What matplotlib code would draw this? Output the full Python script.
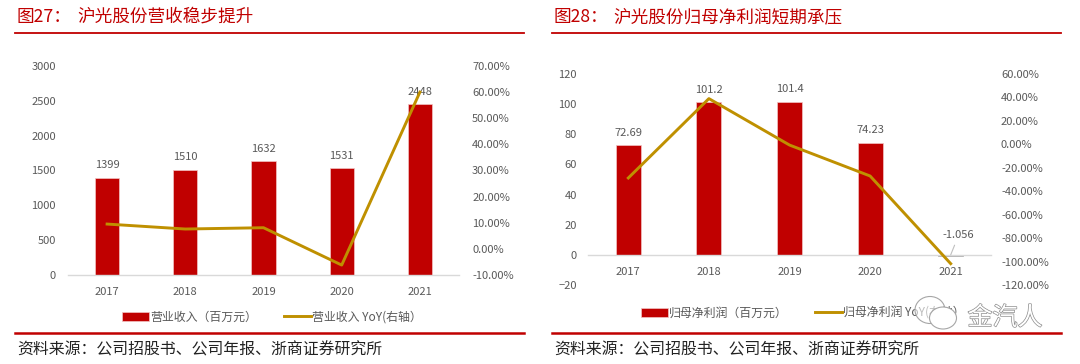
import matplotlib
matplotlib.use('Agg')
import matplotlib.pyplot as plt
import matplotlib.patheffects as pe
from matplotlib.patches import Ellipse

plt.rcParams['font.family'] = ['Noto Sans CJK SC', 'DejaVu Sans']

# Data
years = ['2017', '2018', '2019', '2020', '2021']
revenue = [1399, 1510, 1632, 1531, 2448]
revenue_yoy = [9.5, 7.6, 8.1, -6.2, 60.0]
profit = [72.69, 101.2, 101.4, 74.23, -1.056]
profit_labels = ['72.69', '101.2', '101.4', '74.23', '-1.056']
profit_yoy = [-28.7, 39.0, -0.6, -27.0, -101.8]

left_ticks = [0, 500, 1000, 1500, 2000, 2500, 3000]
left_pct = [-10, 0, 10, 20, 30, 40, 50, 60, 70]
right_ticks = [-20, 0, 20, 40, 60, 80, 100, 120]
right_pct = [-120, -100, -80, -60, -40, -20, 0, 20, 40, 60]

RED = '#C00000'
GOLD = '#BF9000'
GREY = '#595959'
W, H = 1080, 364
TICK_SIZE = 8.0


def px_axes(fig, x0, x1, y_top, y_bottom):
    return fig.add_axes([x0 / W, 1 - y_bottom / H, (x1 - x0) / W, (y_bottom - y_top) / H])


def draw_chart(ax, bars, bar_labels, line, ticks, pct, bar_width, names, pads):
    x = range(len(years))
    ax2 = ax.twinx()
    b = ax.bar(x, bars, width=bar_width, color=RED, edgecolor='#F2C4C4', linewidth=0.5, label=names[0], zorder=2)
    ln, = ax2.plot(x, line, color=GOLD, linewidth=2.1, label=names[1], zorder=5)

    ax.set_xlim(-0.5, len(years) - 0.5)
    ax.set_ylim(ticks[0], ticks[-1])
    ax2.set_ylim(pct[0], pct[-1])
    ax.set_xticks(list(x))
    ax.set_xticklabels(years)
    ax.set_yticks(ticks)
    ax2.set_yticks(pct)
    ax2.set_yticklabels(['%.2f%%' % p for p in pct])

    for a in (ax, ax2):
        for s in a.spines.values():
            s.set_visible(False)
        a.tick_params(length=0, labelsize=TICK_SIZE, labelcolor=GREY)
    ax.tick_params(axis='y', pad=pads[0])
    ax.tick_params(axis='x', pad=8.5)
    ax2.tick_params(axis='y', pad=pads[1])
    ax.spines['bottom'].set_visible(True)
    ax.spines['bottom'].set_position(('data', 0))
    ax.spines['bottom'].set_color('#D9D9D9')
    ax.spines['bottom'].set_linewidth(1)

    for i, v in enumerate(bars):
        if v < 0:
            continue
        ax.annotate(bar_labels[i], (i, v), xytext=(0, 5.5), textcoords='offset points',
                    ha='center', va='bottom', fontsize=TICK_SIZE, color=GREY)
    return b, ln


fig = plt.figure(figsize=(10.8, 3.64), dpi=100)

# left chart
ax_l = px_axes(fig, 68, 459, 66, 275)
bar_l, line_l = draw_chart(ax_l, revenue, [str(v) for v in revenue], revenue_yoy,
                           left_ticks, left_pct, 0.307,
                           ['营业收入（百万元）', '营业收入 YoY(右轴）'], (8.6, 9.4))

# right chart
ax_r = px_axes(fig, 588, 991, 74, 285)
bar_r, line_r = draw_chart(ax_r, profit, profit_labels, profit_yoy,
                           right_ticks, right_pct, 0.31,
                           ['归母净利润（百万元）', '归母净利润 YoY(右轴）'], (8, 7.2))
# the negative bar barely shows, it reads as a grey stub on the axis
bar_r[4].set_color('#A6A6A6')
ax_r.annotate(profit_labels[4], (4, 0), xytext=(4.1, 13.3), textcoords='data',
              ha='center', va='center', fontsize=TICK_SIZE, color=GREY,
              arrowprops=dict(arrowstyle='-', color='#BFBFBF', linewidth=0.8, shrinkA=2, shrinkB=0))

# legends
for bar, line, x0, y0 in [(bar_l, line_l, 122, 317), (bar_r, line_r, 641, 313)]:
    fig.legend([bar, line], [bar.get_label(), line.get_label()], ncol=2, frameon=False,
               loc='center left', bbox_to_anchor=(x0 / W, 1 - y0 / H), fontsize=8.6,
               labelcolor=GREY, handlelength=2.25, handleheight=0.75, handletextpad=0.1,
               columnspacing=2.3, borderpad=0, borderaxespad=0)

# header and footer rules
for x0, x1 in [(15, 524), (552, 1061)]:
    fig.add_artist(plt.Line2D([x0 / W, x1 / W], [1 - 33 / H] * 2, color=RED, linewidth=1.3))
    fig.add_artist(plt.Line2D([x0 / W, x1 / W], [1 - 333 / H] * 2, color=RED, linewidth=1.8))

# titles
for x_num, x_txt, num, txt in [(17, 77, '图27：', '沪光股份营收稳步提升'),
                               (554, 613, '图28：', '沪光股份归母净利润短期承压')]:
    fig.text(x_num / W, 1 - 17 / H, num, color=RED, fontsize=12.7, va='center')
    fig.text(x_txt / W, 1 - 17 / H, txt, color=RED, fontsize=12.7, va='center')

# source lines
for x0 in (17, 554):
    fig.text(x0 / W, 1 - 350 / H, '资料来源：公司招股书、公司年报、浙商证券研究所',
             color='#222222', fontsize=11.45, va='center')

# watermark over the right legend
edge = '#A6A6A6'
for cx, cy, w, h, fill_alpha in [(930, 310, 30, 27, 0.6), (943, 318, 27, 22, 1.0)]:
    fig.add_artist(Ellipse((cx / W, 1 - cy / H), w / W, h / H, transform=fig.transFigure,
                           facecolor=(1, 1, 1, fill_alpha), edgecolor=edge, linewidth=0.8, zorder=10))
fig.text(1005 / W, 1 - 318 / H, '金汽人', fontsize=18, color='white', ha='center', va='center', zorder=11,
         path_effects=[pe.withStroke(linewidth=1.0, foreground='#8C8C8C')])

fig.savefig('out.png', dpi=100, facecolor='white')
